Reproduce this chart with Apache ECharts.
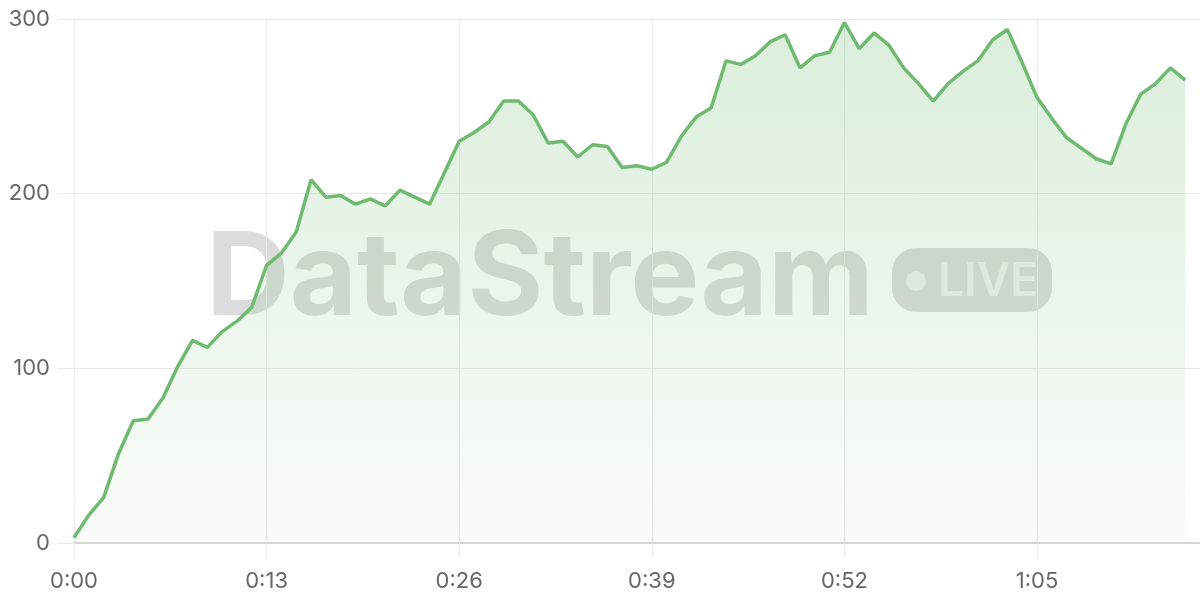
<!DOCTYPE html>
<html>
<head>
<meta charset="utf-8">
<script src="https://cdn.jsdelivr.net/npm/echarts@6/dist/echarts.min.js"></script>
<style>
html,body{margin:0;padding:0;background:#fff;}
#chart{width:1200px;height:600px;}
</style>
</head>
<body>
<div id="chart"></div>
<script>
// Seconds since start (one sample per second)
const seconds = [0,1,2,3,4,5,6,7,8,9,10,11,12,13,14,15,16,17,18,19,20,21,22,23,24,25,26,27,28,29,30,31,32,33,34,35,36,37,38,39,40,41,42,43,44,45,46,47,48,49,50,51,52,53,54,55,56,57,58,59,60,61,62,63,64,65,66,67,68,69,70,71,72,73,74,75];
const values = [3,16,26,51,70,71,83,101,116,112,121,127,135,159,166,178,208,198,199,194,197,193,202,198,194,212,230,235,241,253,253,245,229,230,221,228,227,215,216,214,218,233,244,249,276,274,279,287,291,272,279,281,298,283,292,285,272,263,253,263,270,276,288,294,275,255,243,232,226,220,217,240,257,263,272,265];
const yTicks = [0,100,200,300];
const xTickStep = 13;

function fmt(s){ const m = Math.floor(s/60); const r = s % 60; return m + ':' + (r < 10 ? '0' + r : r); }

const chart = echarts.init(document.getElementById('chart'), null, {renderer:'canvas'});
const lineColor = '#6fba70';
const gridColor = '#e9e9e9';
const labelFont = 'Inter, "DejaVu Sans", sans-serif';

chart.setOption({
  animation:false,
  backgroundColor:'#ffffff',
  grid:{left:74,right:0,top:19,bottom:57,containLabel:false},
  graphic:[
    {type:'text', z:0, silent:true, x:206, y:280,
      style:{text:'DataStream', font:'bold 116px Inter, "DejaVu Sans", sans-serif', fill:'rgba(120,120,120,0.26)', verticalAlign:'middle', align:'left'}},
    {type:'rect', z:0, silent:true, shape:{x:892,y:248,width:160,height:64,r:24}, style:{fill:'rgba(120,120,120,0.26)'}},
    {type:'circle', z:0, silent:true, shape:{cx:916,cy:281,r:10}, style:{fill:'rgba(255,255,255,0.6)'}},
    {type:'text', z:0, silent:true, x:938, y:282,
      style:{text:'LIVE', font:'600 46px Inter, "DejaVu Sans", sans-serif', fill:'rgba(255,255,255,0.6)', verticalAlign:'middle', align:'left'}}
  ],
  xAxis:{
    type:'value', min:0, max:76, interval:xTickStep,
    axisLine:{show:true, lineStyle:{color:'#cccccc', width:1.5}},
    axisTick:{show:true, length:15, lineStyle:{color:gridColor}},
    axisLabel:{color:'#666666', fontSize:22, fontFamily:labelFont, margin:27, showMaxLabel:false, formatter:v=>fmt(v)},
    splitLine:{show:true, showMaxLine:false, lineStyle:{color:gridColor}}
  },
  yAxis:{
    type:'value', min:yTicks[0], max:yTicks[yTicks.length-1], interval:100,
    axisLine:{show:false},
    axisTick:{show:true, length:16, lineStyle:{color:gridColor}},
    axisLabel:{color:'#666666', fontSize:22, fontFamily:labelFont, margin:24},
    splitLine:{show:true, lineStyle:{color:gridColor}}
  },
  series:[{
    type:'line', z:2,
    data: seconds.map((s,i)=>[s, values[i]]),
    showSymbol:false, symbol:'none',
    lineStyle:{color:lineColor, width:3.5},
    itemStyle:{color:lineColor},
    areaStyle:{color:new echarts.graphic.LinearGradient(0,0,0,1,[
      {offset:0, color:'rgba(111,186,112,0.36)'},
      {offset:1, color:'rgba(111,186,112,0.05)'}
    ]), origin:'start'}
  }]
});
</script>
</body>
</html>
